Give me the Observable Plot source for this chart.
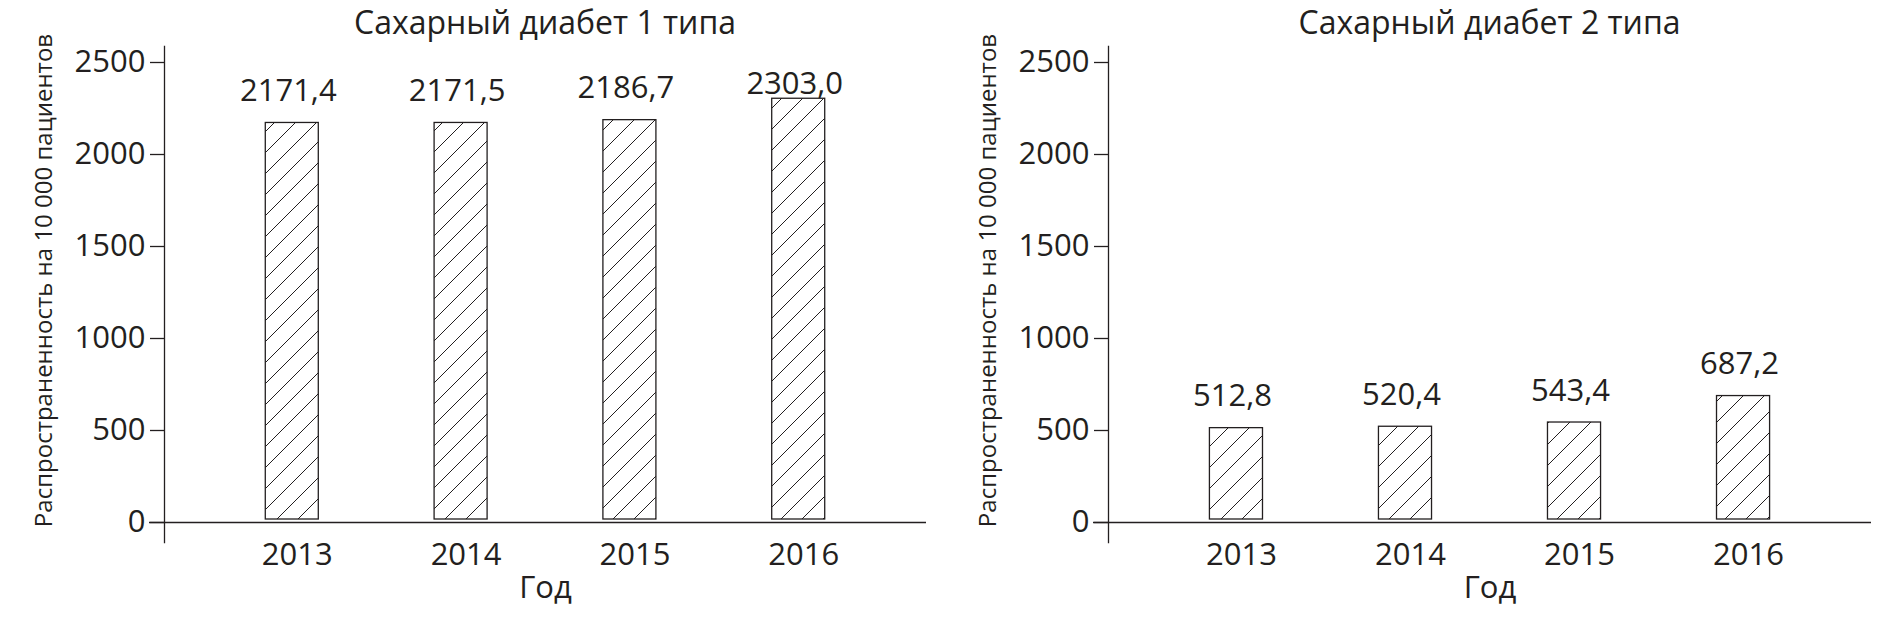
<!DOCTYPE html>
<html>
<head>
<meta charset="utf-8">
<script src="https://cdn.jsdelivr.net/npm/d3@7"></script>
<script src="https://cdn.jsdelivr.net/npm/@observablehq/plot@0.6"></script>
<style>
  html, body { margin: 0; padding: 0; background: #fff; }
  body { width: 1899px; height: 627px; overflow: hidden; font-family: "Open Sans", sans-serif; color: #231f20; }
  #wrap { display: flex; flex-direction: row; }
  .panel { display: flex; flex-direction: column; }
  .title { height: 40px; line-height: 44px; font-size: 32px; text-align: center; white-space: nowrap; position: relative; z-index: 1; }
</style>
</head>
<body>
<div id="wrap"></div>
<script>
const years = [2013, 2014, 2015, 2016];
const type1Values = [2171.4, 2171.5, 2186.7, 2303.0];
const type2Values = [512.8, 520.4, 543.4, 687.2];
const titles = ["Сахарный диабет 1 типа", "Сахарный диабет 2 типа"];
const yTicks = [0, 500, 1000, 1500, 2000, 2500];
const yLabel = "Распространенность на 10 000 пациентов";
const xLabel = "Год";

const INK = "#231f20";
const fmt = v => v.toFixed(1).replace(".", ",");

function hatchDefs(id) {
  return () => {
    const ns = "http://www.w3.org/2000/svg";
    const defs = document.createElementNS(ns, "defs");
    const pat = document.createElementNS(ns, "pattern");
    pat.setAttribute("id", id);
    pat.setAttribute("patternUnits", "userSpaceOnUse");
    pat.setAttribute("width", 21);
    pat.setAttribute("height", 21);
    const path = document.createElementNS(ns, "path");
    path.setAttribute("d", "M0,21L21,0M-6,6L6,-6M15,27L27,15");
    path.setAttribute("stroke", INK);
    path.setAttribute("stroke-width", 1);
    path.setAttribute("fill", "none");
    pat.appendChild(path);
    defs.appendChild(pat);
    return defs;
  };
}

function makePanel(values, title, width, marginRight, id) {
  const data = years.map((y, i) => ({year: y, value: values[i]}));
  const panel = document.createElement("div");
  panel.className = "panel";
  panel.style.width = width + "px";
  const t = document.createElement("div");
  t.className = "title";
  t.style.paddingLeft = "164px";
  t.style.paddingRight = marginRight + "px";
  t.textContent = title;
  panel.appendChild(t);

  const chart = Plot.plot({
    width,
    height: 587,
    marginLeft: 164,
    marginRight,
    marginTop: 22,
    marginBottom: 105,
    style: {fontFamily: "Open Sans", fontSize: "31px", color: INK, background: "transparent", overflow: "visible"},
    x: {type: "band", domain: years, paddingInner: 0.686, paddingOuter: 0.6, round: false},
    y: {domain: [0, 2500]},
    marks: [
      hatchDefs(id),
      Plot.barY(data, {x: "year", y: "value", fill: `url(#${id})`, stroke: INK, strokeWidth: 1.3, insetBottom: 3}),
      Plot.ruleY([0], {stroke: INK, strokeWidth: 1.3, insetLeft: -15}),
      Plot.frame({anchor: "left", stroke: INK, strokeWidth: 1.3, insetTop: -16, insetBottom: -20}),
      Plot.axisY({ticks: yTicks, tickFormat: d => String(d), tickSize: 14, tickPadding: 5, fontSize: 31, label: null, stroke: INK, strokeWidth: 1.3, fill: INK}),
      Plot.axisX({tickSize: 0, tickPadding: 20, dx: 5, fontSize: 31, label: null, fill: INK, tickFormat: d => String(d)}),
      Plot.text(data, {filter: d => d.value < 2250, x: "year", y: "value", text: d => fmt(d.value), dx: -4, dy: -22, lineAnchor: "bottom", fontSize: 31, fill: INK}),
      Plot.text(data, {filter: d => d.value >= 2250, x: "year", y: "value", text: d => fmt(d.value), dx: -4, dy: -5, lineAnchor: "bottom", fontSize: 31, fill: INK}),
      Plot.text([xLabel], {frameAnchor: "bottom", dy: 75, lineAnchor: "bottom", fontSize: 31, fill: INK}),
      Plot.text([yLabel], {frameAnchor: "left", textAnchor: "middle", rotate: -90, dx: -113, dy: -12, lineAnchor: "bottom", fontSize: 24, fill: INK})
    ]
  });
  panel.appendChild(chart);
  return panel;
}

const wrap = document.getElementById("wrap");
wrap.appendChild(makePanel(type1Values, titles[0], 944, 18, "hatch1"));
wrap.appendChild(makePanel(type2Values, titles[1], 955, 28, "hatch2"));
</script>
</body>
</html>
